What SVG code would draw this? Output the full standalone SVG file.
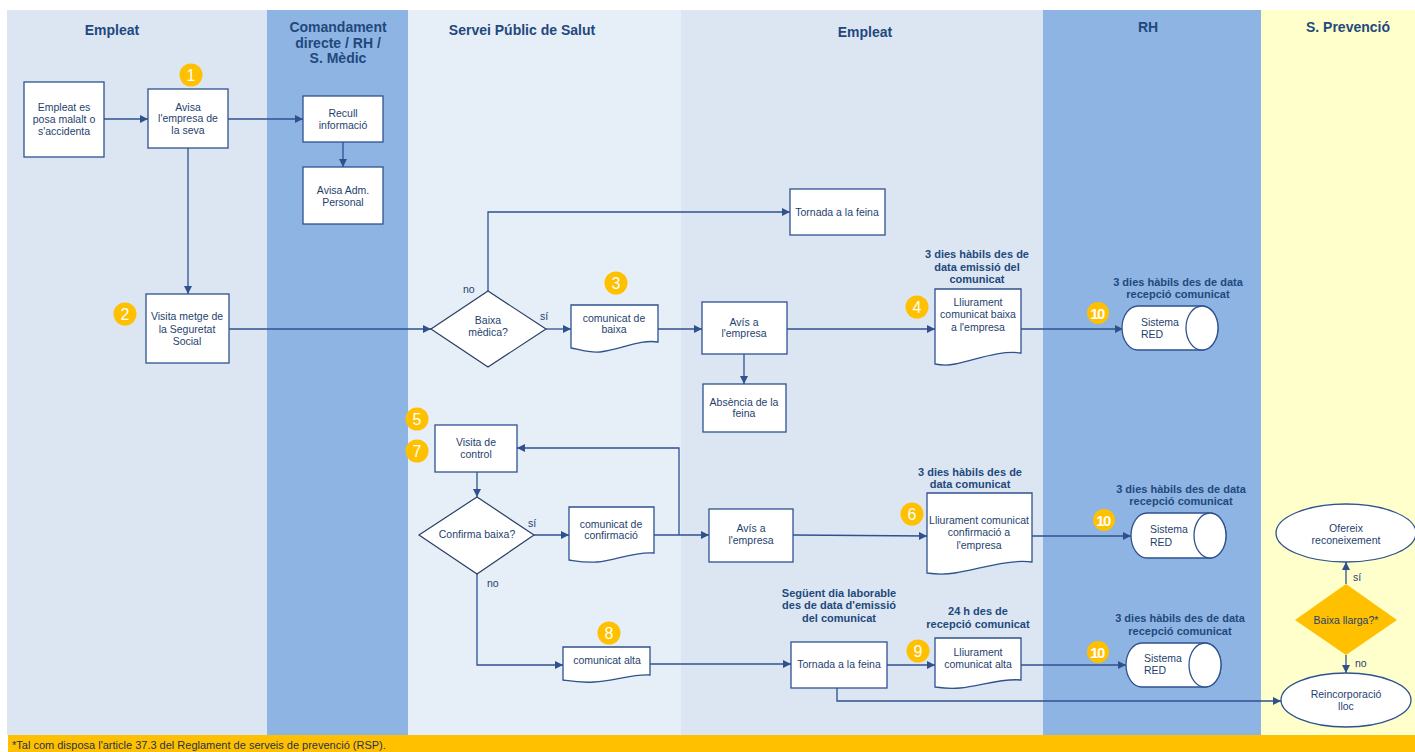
<svg xmlns="http://www.w3.org/2000/svg" width="1415" height="752" viewBox="0 0 1415 752">
<defs>
<marker id="ah" viewBox="0 0 10 10" refX="10" refY="5" markerWidth="8" markerHeight="8" markerUnits="userSpaceOnUse" orient="auto">
<path d="M0,0 L10,5 L0,10 Z" fill="#2f528f"/>
</marker>
<style>
.hdr{font-family:"Liberation Sans",Arial,sans-serif;font-weight:bold;font-size:14px;fill:#1f497d;text-anchor:middle}
.t{font-family:"Liberation Sans Narrow","Liberation Sans",Arial,sans-serif;font-size:10.5px;fill:#1f3f6e;text-anchor:middle}
.tl{font-family:"Liberation Sans Narrow","Liberation Sans",Arial,sans-serif;font-size:10.5px;fill:#1f3f6e}
.lbl{font-family:"Liberation Sans",Arial,sans-serif;font-weight:bold;font-size:11px;fill:#1f497d;text-anchor:middle}
.box{fill:#fff;stroke:#2f528f;stroke-width:1.3}
.dia{fill:#fff;stroke:#2a3f66;stroke-width:1.2}
.con{fill:none;stroke:#2f528f;stroke-width:1.3;marker-end:url(#ah)}
.ln{fill:none;stroke:#2f528f;stroke-width:1.3}
.bc{fill:#ffc000}
.bt{font-family:"Liberation Sans",Arial,sans-serif;font-size:16px;fill:#fff;text-anchor:middle}
.bt10{font-family:"Liberation Sans Narrow","Liberation Sans",Arial,sans-serif;font-weight:bold;font-size:15px;fill:#fff;text-anchor:middle;letter-spacing:-1.5px}
.foot{font-family:"Liberation Sans",Arial,sans-serif;font-size:11px;fill:#243450}
</style>
</defs>
<rect width="1415" height="752" fill="#fff"/>
<g id="lanes">
<rect x="7" y="10" width="260" height="725" fill="#dce6f2"/>
<rect x="267" y="10" width="141" height="725" fill="#8eb4e3"/>
<rect x="408" y="10" width="273" height="725" fill="#e6eef8"/>
<rect x="681" y="10" width="362" height="725" fill="#dce6f2"/>
<rect x="1043" y="10" width="218" height="725" fill="#8eb4e3"/>
<rect x="1261" y="10" width="154" height="725" fill="#ffffcc"/>
<text class="hdr" x="112" y="35">Empleat</text>
<text class="hdr" x="338" y="32">Comandament</text>
<text class="hdr" x="338" y="48">directe / RH /</text>
<text class="hdr" x="338" y="63">S. Mèdic</text>
<text class="hdr" x="522" y="35">Servei Públic de Salut</text>
<text class="hdr" x="865" y="37">Empleat</text>
<text class="hdr" x="1148" y="32">RH</text>
<text class="hdr" x="1348" y="32">S. Prevenció</text>
</g>
<g id="footer">
<rect x="8" y="735" width="1407" height="17" fill="#ffc000"/>
<text class="foot" x="12" y="749">*Tal com disposa l'article 37.3 del Reglament de serveis de prevenció (RSP).</text>
</g>
<g id="connectors">
<path class="con" d="M104,119 H148"/>
<path class="con" d="M228,119 H303"/>
<path class="con" d="M343,142 V167"/>
<path class="con" d="M188,148 V294"/>
<path class="con" d="M229,329 H431"/>
<path class="con" d="M488,291 V212 H790"/>
<path class="con" d="M546,329 H571"/>
<path class="con" d="M658,329 H702"/>
<path class="con" d="M744,354 V384"/>
<path class="con" d="M787,329 H935"/>
<path class="con" d="M1021,329 H1123"/>
<path class="con" d="M477,472 V497"/>
<path class="con" d="M534,535 H569"/>
<path class="con" d="M654,535 H709"/>
<path class="con" d="M679,535 V448 H517"/>
<path class="con" d="M793,535 L927,536"/>
<path class="con" d="M1032,536 H1131"/>
<path class="con" d="M477,574 V665 H563"/>
<path class="con" d="M650,664 H791"/>
<path class="con" d="M887,665 H935"/>
<path class="con" d="M1021,665 H1126"/>
<path class="con" d="M837,688 V701 H1281"/>
<path class="con" d="M1346,584 V562"/>
<path class="con" d="M1346,655 V673"/>
<text class="tl" x="463" y="293">no</text>
<text class="tl" x="540" y="320">sí</text>
<text class="tl" x="528" y="527">sí</text>
<text class="tl" x="487" y="587">no</text>
<text class="tl" x="1353" y="581">sí</text>
<text class="tl" x="1355" y="667">no</text>
</g>
<g id="n1"><rect class="box" x="24" y="82" width="80" height="75"/>
<text class="t" x="64" y="111">Empleat es</text><text class="t" x="64" y="123">posa malalt o</text><text class="t" x="64" y="135">s'accidenta</text></g>
<g id="n2"><rect class="box" x="148" y="89" width="80" height="59"/>
<text class="t" x="188" y="111">Avisa</text><text class="t" x="188" y="122">l'empresa de</text><text class="t" x="188" y="134">la seva</text></g>
<g id="b1"><circle class="bc" cx="191" cy="75" r="11.5"/><text class="bt" x="191" y="81">1</text></g>
<g id="n3"><rect class="box" x="303" y="96" width="80" height="46"/>
<text class="t" x="343" y="117">Recull</text><text class="t" x="343" y="129">informació</text></g>
<g id="n4"><rect class="box" x="303" y="167" width="80" height="57"/>
<text class="t" x="343" y="194">Avisa Adm.</text><text class="t" x="343" y="206">Personal</text></g>
<g id="n5"><rect class="box" x="146" y="294" width="83" height="69"/>
<text class="t" x="187" y="320">Visita metge de</text><text class="t" x="187" y="333">la Seguretat</text><text class="t" x="187" y="345">Social</text></g>
<g id="b2"><circle class="bc" cx="125" cy="314" r="11.5"/><text class="bt" x="125" y="320">2</text></g>
<g id="n6"><path class="dia" d="M431,329 L488,291 L546,329 L488,367 Z"/>
<text class="t" x="488" y="324">Baixa</text><text class="t" x="488" y="336">mèdica?</text></g>
<g id="n7"><rect class="box" x="790" y="189" width="95" height="46"/>
<text class="t" x="837" y="216">Tornada a la feina</text></g>
<g id="n8"><path class="box" d="M571,305 H658 V342 C640,339 620,350 600,352 C588,353 578,349 571,348 Z"/>
<text class="t" x="614" y="322">comunicat de</text><text class="t" x="614" y="333">baixa</text></g>
<g id="b3"><circle class="bc" cx="616" cy="283" r="11.5"/><text class="bt" x="616" y="289">3</text></g>
<g id="n9"><rect class="box" x="702" y="302" width="85" height="52"/>
<text class="t" x="744" y="326">Avís a</text><text class="t" x="744" y="337">l'empresa</text></g>
<g id="n10"><rect class="box" x="703" y="384" width="83" height="48"/>
<text class="t" x="744" y="406">Absència de la</text><text class="t" x="744" y="417">feina</text></g>
<g id="n11"><path class="box" d="M935,289 H1021 V353 C1000,350 975,360 955,364 C946,366 940,365 935,364 Z"/>
<text class="t" x="978" y="306">Lliurament</text><text class="t" x="978" y="318">comunicat baixa</text><text class="t" x="978" y="331">a l'empresa</text></g>
<text class="lbl" x="977" y="258">3 dies hàbils des de</text>
<text class="lbl" x="977" y="271">data emissió del</text>
<text class="lbl" x="977" y="283">comunicat</text>
<g id="b4"><circle class="bc" cx="917" cy="307" r="11.5"/><text class="bt" x="917" y="313">4</text></g>
<g id="n12"><path class="box" d="M1138,306 H1202 A16,22 0 0 1 1202,350 H1138 A16,22 0 0 1 1138,306 Z"/><ellipse class="box" cx="1202" cy="328" rx="16" ry="22"/>
<text class="tl" x="1141" y="326">Sistema</text><text class="tl" x="1141" y="338">RED</text></g>
<text class="lbl" x="1178" y="286">3 dies hàbils des de data</text>
<text class="lbl" x="1178" y="298">recepció comunicat</text>
<g id="b10a"><circle class="bc" cx="1098" cy="313" r="11"/><text class="bt10" x="1097" y="318.5">10</text></g>
<g id="b5"><circle class="bc" cx="417" cy="419" r="11.5"/><text class="bt" x="417" y="425">5</text></g>
<g id="b7"><circle class="bc" cx="417" cy="451" r="11.5"/><text class="bt" x="417" y="457">7</text></g>
<g id="n13"><rect class="box" x="435" y="425" width="82" height="47"/>
<text class="t" x="476" y="446">Visita de</text><text class="t" x="476" y="458">control</text></g>
<g id="n14"><path class="dia" d="M419,535 L477,497 L534,535 L477,574 Z"/>
<text class="t" x="477" y="538">Confirma baixa?</text></g>
<g id="n15"><path class="box" d="M569,507 H654 V553 C636,551 616,560 597,562 C585,563 576,561 569,560 Z"/>
<text class="t" x="611" y="528">comunicat de</text><text class="t" x="611" y="539">confirmació</text></g>
<g id="n16"><rect class="box" x="709" y="509" width="84" height="53"/>
<text class="t" x="751" y="532">Avís a</text><text class="t" x="751" y="544">l'empresa</text></g>
<g id="n17"><path class="box" d="M927,493 H1032 V562 C1008,559 980,569 955,573 C942,575 934,574 927,573 Z"/>
<text class="t" x="979" y="524">Lliurament comunicat</text><text class="t" x="979" y="536">confirmació a</text><text class="t" x="979" y="549">l'empresa</text></g>
<text class="lbl" x="970" y="476">3 dies hàbils des de</text>
<text class="lbl" x="970" y="488">data comunicat</text>
<g id="b6"><circle class="bc" cx="912" cy="514" r="11.5"/><text class="bt" x="912" y="520">6</text></g>
<g id="n18"><path class="box" d="M1147,513 H1210 A16,22.5 0 0 1 1210,558 H1147 A16,22.5 0 0 1 1147,513 Z"/><ellipse class="box" cx="1210" cy="535.5" rx="16" ry="22.5"/>
<text class="tl" x="1150" y="533">Sistema</text><text class="tl" x="1150" y="546">RED</text></g>
<text class="lbl" x="1181" y="493">3 dies hàbils des de data</text>
<text class="lbl" x="1181" y="505">recepció comunicat</text>
<g id="b10b"><circle class="bc" cx="1104" cy="520" r="11"/><text class="bt10" x="1103" y="525.5">10</text></g>
<g id="n19"><path class="box" d="M563,647 H650 V675 C632,674 614,681 594,682 C580,683 570,681 563,680 Z"/>
<text class="t" x="607" y="664">comunicat alta</text></g>
<g id="b8"><circle class="bc" cx="609" cy="633" r="11.5"/><text class="bt" x="609" y="639">8</text></g>
<g id="n20"><rect class="box" x="791" y="642" width="96" height="46"/>
<text class="t" x="839" y="668">Tornada a la feina</text></g>
<text class="lbl" x="839" y="597">Següent dia laborable</text>
<text class="lbl" x="839" y="609">des de data d'emissió</text>
<text class="lbl" x="839" y="622">del comunicat</text>
<g id="n21"><path class="box" d="M935,638 H1021 V680 C1002,678 980,686 960,688 C950,689 942,688 935,687 Z"/>
<text class="t" x="978" y="656">Lliurament</text><text class="t" x="978" y="668">comunicat alta</text></g>
<text class="lbl" x="978" y="615">24 h des de</text>
<text class="lbl" x="978" y="628">recepció comunicat</text>
<g id="b9"><circle class="bc" cx="918" cy="651" r="11.5"/><text class="bt" x="918" y="657">9</text></g>
<g id="n22"><path class="box" d="M1142,643 H1205 A16,22 0 0 1 1205,687 H1142 A16,22 0 0 1 1142,643 Z"/><ellipse class="box" cx="1205" cy="665" rx="16" ry="22"/>
<text class="tl" x="1144" y="662">Sistema</text><text class="tl" x="1144" y="674">RED</text></g>
<text class="lbl" x="1180" y="622">3 dies hàbils des de data</text>
<text class="lbl" x="1180" y="635">recepció comunicat</text>
<g id="b10c"><circle class="bc" cx="1098" cy="652" r="11"/><text class="bt10" x="1097" y="657.5">10</text></g>
<g id="n23"><ellipse class="box" cx="1346" cy="533" rx="70" ry="29"/>
<text class="t" x="1346" y="532">Ofereix</text><text class="t" x="1346" y="544">reconeixement</text></g>
<g id="n24"><path d="M1295,620 L1346,584 L1397,620 L1346,655 Z" fill="#ffc000"/>
<text class="t" x="1346" y="624">Baixa llarga?*</text></g>
<g id="n25"><ellipse class="box" cx="1346" cy="700" rx="65" ry="27"/>
<text class="t" x="1346" y="698">Reincorporació</text><text class="t" x="1346" y="710">lloc</text></g>
</svg>
